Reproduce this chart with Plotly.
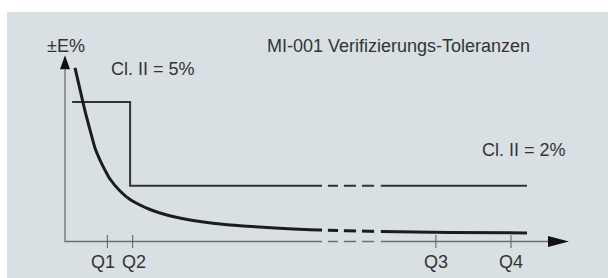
import plotly.graph_objects as go

W, H = 608, 278

# ---------------- data ----------------
q_labels = ["Q1", "Q2", "Q3", "Q4"]
q_values = [1.01, 1.61, 8.83, 10.62]

tol_q = [0.17, 1.55, 1.55, 11.0]          # MPE step line (Cl. II)
tol_e = [5.0, 5.0, 2.0, 2.0]

curve_q = [0.238, 0.357, 0.476, 0.595, 0.714, 0.833, 0.952, 1.071, 1.310,
           1.548, 1.786, 2.024, 2.262, 2.619, 3.048, 3.571, 4.238, 5.000,
           5.833, 7.524, 9.167, 11.0]
curve_e = [6.22, 5.45, 4.68, 4.00, 3.35, 2.92, 2.56, 2.24, 1.81,
           1.505, 1.308, 1.147, 1.022, 0.878, 0.753, 0.645, 0.556, 0.484,
           0.423, 0.355, 0.326, 0.305]

break_gaps = [(6.12, 6.26), (6.50, 6.64), (6.93, 7.07), (7.36, 7.52)]

x_axis_end = 12.0
y_axis_end = 6.68

title_text = "MI-001 Verifizierungs-Toleranzen"
y_label = "±E%"
tol_labels = ["Cl. II = 5%", "Cl. II = 2%"]

# ---------------- styling ----------------
BG = "#d9e0e4"
AXIS = "#6e6e6e"
INK = "#333333"
FONT = "Liberation Sans, Arial, sans-serif"

# axis mapping (data units -> figure pixels)
X0_PX, X_SCALE = 65.0, 42.0
Y0_PX, Y_SCALE = 241.5, 27.9
x_range = [-X0_PX / X_SCALE, (W - X0_PX) / X_SCALE]
y_range = [(Y0_PX - H) / Y_SCALE, Y0_PX / Y_SCALE]


def P(px, py):
    return px / W, 1 - py / H


fig = go.Figure()

# axes lines
fig.add_trace(go.Scatter(x=[0, 0, x_axis_end - 20 / X_SCALE], y=[y_axis_end - 14 / Y_SCALE, 0, 0],
                         mode="lines", line=dict(color=AXIS, width=1.3),
                         hoverinfo="skip", showlegend=False))

# tolerance step line
fig.add_trace(go.Scatter(x=tol_q, y=tol_e, mode="lines",
                         line=dict(color=INK, width=2),
                         hoverinfo="skip", showlegend=False))

# error curve
fig.add_trace(go.Scatter(x=curve_q, y=curve_e, mode="lines",
                         line=dict(color="#1c1c1c", width=3, shape="spline", smoothing=0.6),
                         hoverinfo="skip", showlegend=False))

shapes = []
# panel background
bx0, by0 = P(7, 12)
shapes.append(dict(type="rect", xref="paper", yref="paper", x0=bx0, x1=1, y0=0, y1=by0,
                   fillcolor=BG, line=dict(width=0), layer="below"))

# axis break gaps
for g0, g1 in break_gaps:
    shapes.append(dict(type="rect", xref="x", yref="y", x0=g0, x1=g1, y0=-0.3, y1=2.3,
                       fillcolor=BG, line=dict(width=0), layer="above"))

# ticks
for q in q_values:
    shapes.append(dict(type="line", xref="x", yref="y", x0=q, x1=q,
                       ysizemode="pixel", yanchor=0, y0=-6.5, y1=6.5,
                       line=dict(color=AXIS, width=1.2), layer="above"))

# arrow heads
shapes.append(dict(type="path", xref="x", yref="y", xsizemode="pixel", ysizemode="pixel",
                   xanchor=x_axis_end, yanchor=0,
                   path="M 0,0 L -21,5.5 L -21,-5.5 Z",
                   fillcolor="#111111", line=dict(width=0), layer="above"))
shapes.append(dict(type="path", xref="x", yref="y", xsizemode="pixel", ysizemode="pixel",
                   xanchor=0, yanchor=y_axis_end,
                   path="M 0,0 L -5,-14 L 5,-14 Z",
                   fillcolor="#111111", line=dict(width=0), layer="above"))

annotations = []


def txt(text, px, py, xanchor="left", size=18):
    x, y = P(px, py)
    annotations.append(dict(text=text, x=x, y=y, xref="paper", yref="paper",
                            xanchor=xanchor, yanchor="middle", showarrow=False,
                            font=dict(family=FONT, size=size, color=INK)))


txt(title_text, 265, 46)
txt(y_label, 66, 46, xanchor="center")
txt(tol_labels[0], 109, 69)
txt(tol_labels[1], 480, 150)

label_shift = [-4, 1, 0, 0]
for lab, q, s in zip(q_labels, q_values, label_shift):
    px = X0_PX + q * X_SCALE + s
    txt(lab, px, 262, xanchor="center")

fig.update_layout(
    width=W, height=H,
    margin=dict(l=0, r=0, t=0, b=0),
    paper_bgcolor="white", plot_bgcolor="rgba(0,0,0,0)",
    xaxis=dict(range=x_range, visible=False, fixedrange=True),
    yaxis=dict(range=y_range, visible=False, fixedrange=True),
    shapes=shapes, annotations=annotations,
    showlegend=False,
)

fig.write_html("out.html", config={"displayModeBar": False},
               post_script="document.body.style.margin='0';document.body.style.overflow='hidden';")
